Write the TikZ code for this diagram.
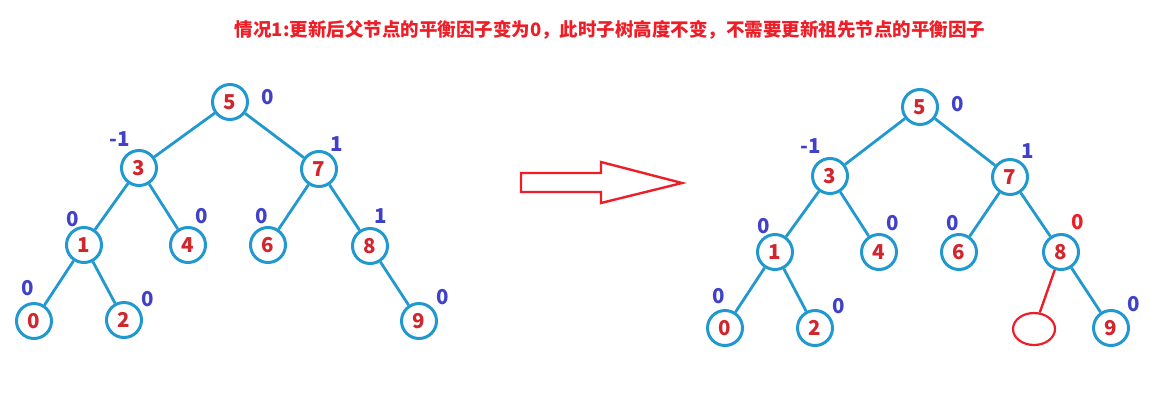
\documentclass[tikz,border=0pt]{standalone}
\usepackage{fontspec}
\newfontfamily\cjk{Noto Sans CJK SC}
\usetikzlibrary{positioning, shapes.geometric}
\definecolor{treeblue}{RGB}{33,152,206}
\definecolor{keyred}{RGB}{208,38,46}
\definecolor{factorblue}{RGB}{64,64,200}
\definecolor{titlered}{RGB}{238,30,40}

\begin{document}
\begin{tikzpicture}[x=1pt, y=-1pt, font=\cjk\bfseries\fontsize{20.5}{22}\selectfont,
	tnode/.style={circle, draw=treeblue, line width=3pt, minimum size=35pt, inner sep=0pt, text=keyred},
	edge/.style={draw=treeblue, line width=2.8pt},
	factor/.style={text=factorblue, inner sep=0pt}]

	\useasboundingbox (0,0) rectangle (1172,402);

	\node (title) at (610, 30) [text=titlered, font=\cjk\bfseries\fontsize{18.5}{20}\selectfont] {情况1:更新后父节点的平衡因子变为0，此时子树高度不变，不需要更新祖先节点的平衡因子};

	% tree before
	\node (a5) at (230, 102) [tnode] {5};
	\node (a3) at (139, 168) [tnode] {3};
	\node (a7) at (319, 169) [tnode] {7};
	\node (a1) at (84, 245) [tnode] {1};
	\node (a4) at (188, 245) [tnode] {4};
	\node (a6) at (268, 245) [tnode] {6};
	\node (a8) at (370, 246) [tnode] {8};
	\node (a0) at (34, 321) [tnode] {0};
	\node (a2) at (124, 320) [tnode] {2};
	\node (a9) at (419, 321) [tnode] {9};

	\draw[edge] (a5)--(a3);
	\draw[edge] (a5)--(a7);
	\draw[edge] (a3)--(a1);
	\draw[edge] (a3)--(a4);
	\draw[edge] (a7)--(a6);
	\draw[edge] (a7)--(a8);
	\draw[edge] (a1)--(a0);
	\draw[edge] (a1)--(a2);
	\draw[edge] (a8)--(a9);

	\node (fa5) at (268, 97) [factor] {0};
	\node (fa3) at (120, 139) [factor] {-1};
	\node (fa7) at (337, 144) [factor] {1};
	\node (fa1) at (73, 219) [factor] {0};
	\node (fa4) at (202, 216) [factor] {0};
	\node (fa6) at (262, 216) [factor] {0};
	\node (fa8) at (381, 216) [factor] {1};
	\node (fa0) at (28, 288) [factor] {0};
	\node (fa2) at (148, 299) [factor] {0};
	\node (fa9) at (443, 297) [factor] {0};

	% block arrow
	\draw[titlered, line width=2.4pt] (521,173)--(601,173)--(601,162)--(682,183)--(601,203)--(601,192)--(521,192)--cycle;

	% tree after
	\node (b5) at (920, 107) [tnode] {5};
	\node (b3) at (830, 176) [tnode] {3};
	\node (b7) at (1010, 177) [tnode] {7};
	\node (b1) at (775, 252) [tnode] {1};
	\node (b4) at (879, 252) [tnode] {4};
	\node (b6) at (959, 252) [tnode] {6};
	\node (b8) at (1061, 252) [tnode] {8};
	\node (b0) at (725, 328) [tnode] {0};
	\node (b2) at (815, 328) [tnode] {2};
	\node (b9) at (1111, 328) [tnode] {9};
	\node (bnew) at (1034, 329) [ellipse, draw=titlered, line width=2.2pt, minimum width=42pt, minimum height=32pt, inner sep=0pt] {};

	\draw[edge] (b5)--(b3);
	\draw[edge] (b5)--(b7);
	\draw[edge] (b3)--(b1);
	\draw[edge] (b3)--(b4);
	\draw[edge] (b7)--(b6);
	\draw[edge] (b7)--(b8);
	\draw[edge] (b1)--(b0);
	\draw[edge] (b1)--(b2);
	\draw[edge] (b8)--(b9);
	\draw[titlered, line width=2.4pt] (b8)--(bnew);

	\node (fb5) at (958, 104) [factor] {0};
	\node (fb3) at (811, 146) [factor] {-1};
	\node (fb7) at (1028, 151) [factor] {1};
	\node (fb1) at (764, 226) [factor] {0};
	\node (fb4) at (893, 223) [factor] {0};
	\node (fb6) at (953, 223) [factor] {0};
	\node (fb8) at (1078, 222) [factor, text=titlered] {0};
	\node (fb0) at (719, 296) [factor] {0};
	\node (fb2) at (839, 306) [factor] {0};
	\node (fb9) at (1134, 304) [factor] {0};

\end{tikzpicture}
\end{document}
